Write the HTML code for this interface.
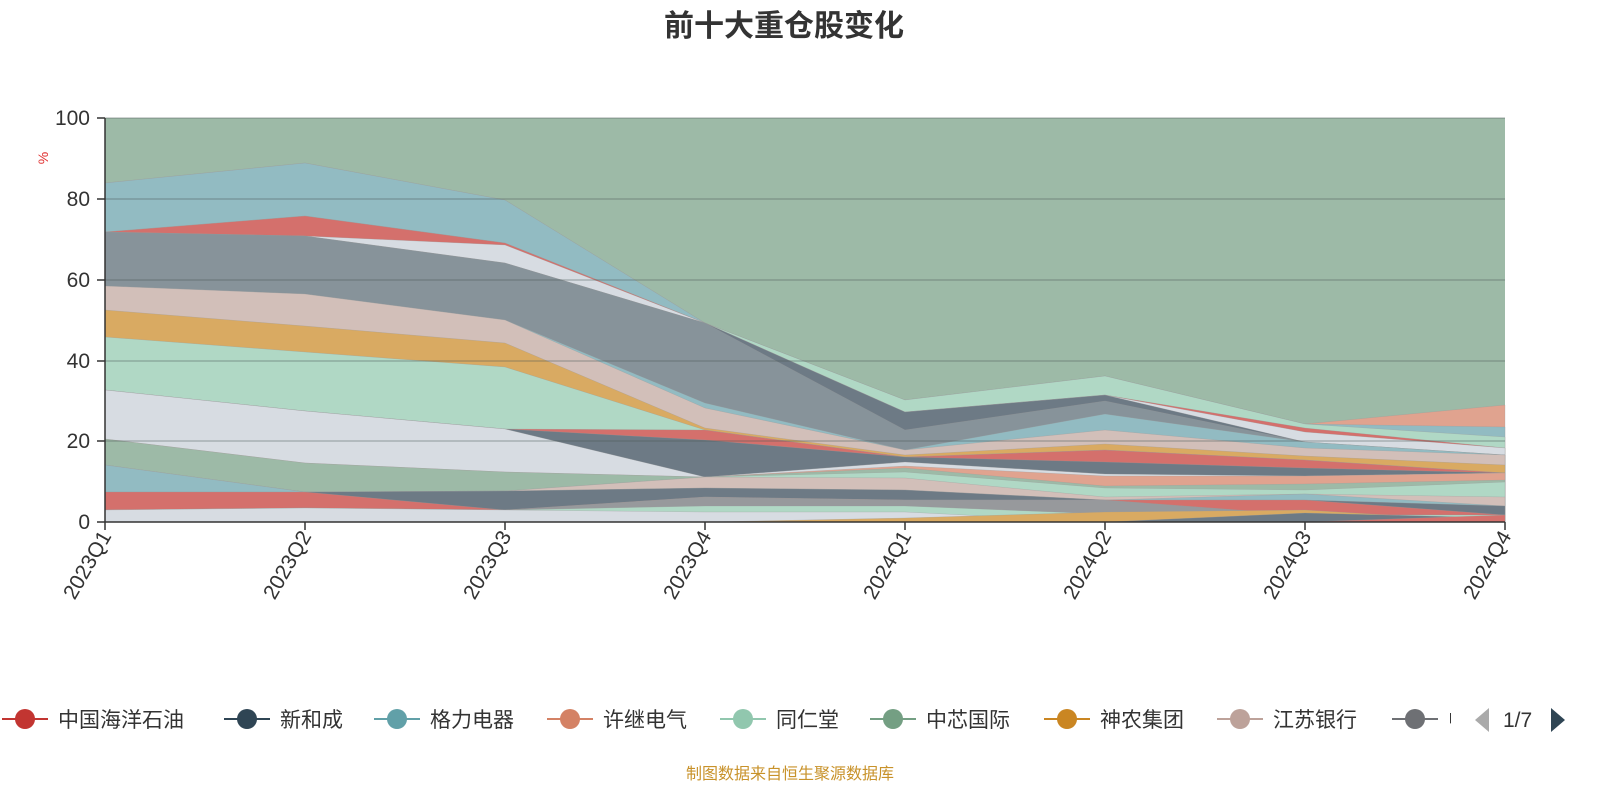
<!DOCTYPE html>
<html><head><meta charset="utf-8"><style>
body{margin:0;background:#fff;}
svg{display:block;font-family:"Liberation Sans","Noto Sans CJK SC",sans-serif;}
</style></head><body>
<svg width="1600" height="800" viewBox="0 0 1600 800" xmlns="http://www.w3.org/2000/svg">
<text x="784" y="36" text-anchor="middle" font-size="30" font-weight="bold" fill="#333">前十大重仓股变化</text>
<rect x="105" y="118" width="1400" height="404" fill="#9dbaa7"/>
<g id="bands" stroke="#999" stroke-width="0.5" stroke-opacity="0.5"></g>
<g stroke="#4a5a55" stroke-opacity="0.35" stroke-width="1.5">
<line x1="105" y1="118" x2="1505" y2="118"/><line x1="105" y1="199" x2="1505" y2="199"/><line x1="105" y1="280" x2="1505" y2="280"/><line x1="105" y1="361" x2="1505" y2="361"/><line x1="105" y1="441" x2="1505" y2="441"/>
</g>
<g stroke="#333" stroke-width="1.5">
<line x1="105" y1="118" x2="105" y2="522"/>
<line x1="105" y1="522" x2="1505" y2="522"/>
<line x1="97" y1="118" x2="105" y2="118"/><line x1="97" y1="199" x2="105" y2="199"/><line x1="97" y1="280" x2="105" y2="280"/><line x1="97" y1="361" x2="105" y2="361"/><line x1="97" y1="441" x2="105" y2="441"/><line x1="97" y1="522" x2="105" y2="522"/>
<line x1="105" y1="522" x2="105" y2="530"/><line x1="305" y1="522" x2="305" y2="530"/><line x1="505" y1="522" x2="505" y2="530"/><line x1="705" y1="522" x2="705" y2="530"/><line x1="905" y1="522" x2="905" y2="530"/><line x1="1105" y1="522" x2="1105" y2="530"/><line x1="1305" y1="522" x2="1305" y2="530"/><line x1="1505" y1="522" x2="1505" y2="530"/>
</g>
<g font-size="21" fill="#333" text-anchor="end">
<text x="90" y="125">100</text><text x="90" y="206">80</text><text x="90" y="287">60</text><text x="90" y="368">40</text><text x="90" y="448">20</text><text x="90" y="529">0</text>
</g>
<text x="48" y="158" font-size="14" fill="#e03030" transform="rotate(-90 48 158)" text-anchor="middle">%</text>
<g font-size="21" fill="#333" text-anchor="end">
<text transform="translate(112,536) rotate(-60)">2023Q1</text>
<text transform="translate(312,536) rotate(-60)">2023Q2</text>
<text transform="translate(512,536) rotate(-60)">2023Q3</text>
<text transform="translate(712,536) rotate(-60)">2023Q4</text>
<text transform="translate(912,536) rotate(-60)">2024Q1</text>
<text transform="translate(1112,536) rotate(-60)">2024Q2</text>
<text transform="translate(1312,536) rotate(-60)">2024Q3</text>
<text transform="translate(1512,536) rotate(-60)">2024Q4</text>
</g>
<g id="legend" font-size="21" fill="#333"></g>
<polygon points="1489,708 1489,732 1475,720" fill="#aaa"/>
<text x="1503" y="727" font-size="21" fill="#333">1/7</text>
<polygon points="1551,708 1551,732 1565,720" fill="#2f4554"/>
<text x="790" y="779" font-size="16" fill="#c8922a" text-anchor="middle">制图数据来自恒生聚源数据库</text>
</svg>
<script>
var xs=[105,305,505,705,905,1105,1305,1505];
var bands=[
["#e0a38f",[183,163,200,323,400,376,424,405]],
["#92bbc2",[183,163,200,323,400,376,424,427]],
["#b0d8c5",[232,216,243,323,400,376,424,437]],
["#d4706c",[232,216,243,323,412,395,428,448]],
["#d7dce2",[232,236,245,323,412,395,432,448]],
["#6d7a85",[232,236,263,323,412,395,442,455]],
["#87939a",[232,236,263,323,430,401,442,455]],
["#92bbc2",[286,294,320,403,450,414,442,455]],
["#d2bfb9",[286,294,320,408,450,430,448,455]],
["#d9aa62",[310,326,343,428,455,444,456,465]],
["#b0d8c5",[337,352,367,430,457,450,460,473]],
["#d4706c",[390,411,429,430,457,450,460,473]],
["#6d7a85",[390,411,429,440,457,462,468,473]],
["#d7dce2",[390,411,429,477,462,474,476,473]],
["#e0a38f",[439,463,472,477,466,476,476,473]],
["#9dbaa7",[439,463,472,477,468,486,484,480]],
["#b0d8c5",[465,492,491,477,472,488,490,482]],
["#d2bfb9",[465,492,491,477,478,497,494,497]],
["#92bbc2",[465,492,491,488,490,500,494,506]],
["#6d7a85",[492,492,491,488,490,500,500,506]],
["#d4706c",[492,492,510,497,500,500,500,515]],
["#97999c",[510,508,510,497,500,500,515,515]],
["#b0d8c5",[510,508,510,506,506,514,515,515]],
["#d7dce2",[510,508,510,512,512,522,522,522]],
["#d9aa62",[522,522,522,522,518,512,510,522]],
["#6d7a85",[522,522,522,522,522,522,513,518]],
["#d4706c",[522,522,522,522,522,522,522,515]]
];
var g=document.getElementById("bands"),h="";
bands.forEach(function(b){var p=[];for(var i=0;i<8;i++)p.push(xs[i]+","+b[1][i]);p.push("1505,522","105,522");h+='<polygon fill="'+b[0]+'" points="'+p.join(" ")+'"/>';});
g.innerHTML=h;
var L=[["中国海洋石油","#c23531",0],["新和成","#2f4554",222],["格力电器","#61a0a8",372],["许继电气","#d48265",545],["同仁堂","#91c7ae",718],["中芯国际","#749f83",868],["神农集团","#ca8622",1042],["江苏银行","#bda29a",1215],["中","#6e7074",1390]];
var s="";
L.forEach(function(l){var x=l[2];s+='<line x1="'+(x+2)+'" y1="719" x2="'+(x+48)+'" y2="719" stroke="'+l[1]+'" stroke-width="2"/><circle cx="'+(x+25)+'" cy="719" r="10" fill="'+l[1]+'"/>';
if(l[0]=="中")s+='<text x="'+(x+58)+'" y="727" clip-path="url(#cp)">中</text>';else s+='<text x="'+(x+58)+'" y="727">'+l[0]+'</text>';});
document.getElementById("legend").innerHTML='<defs><clipPath id="cp"><rect x="1440" y="690" width="11" height="50"/></clipPath></defs>'+s;
</script>
</body></html>
